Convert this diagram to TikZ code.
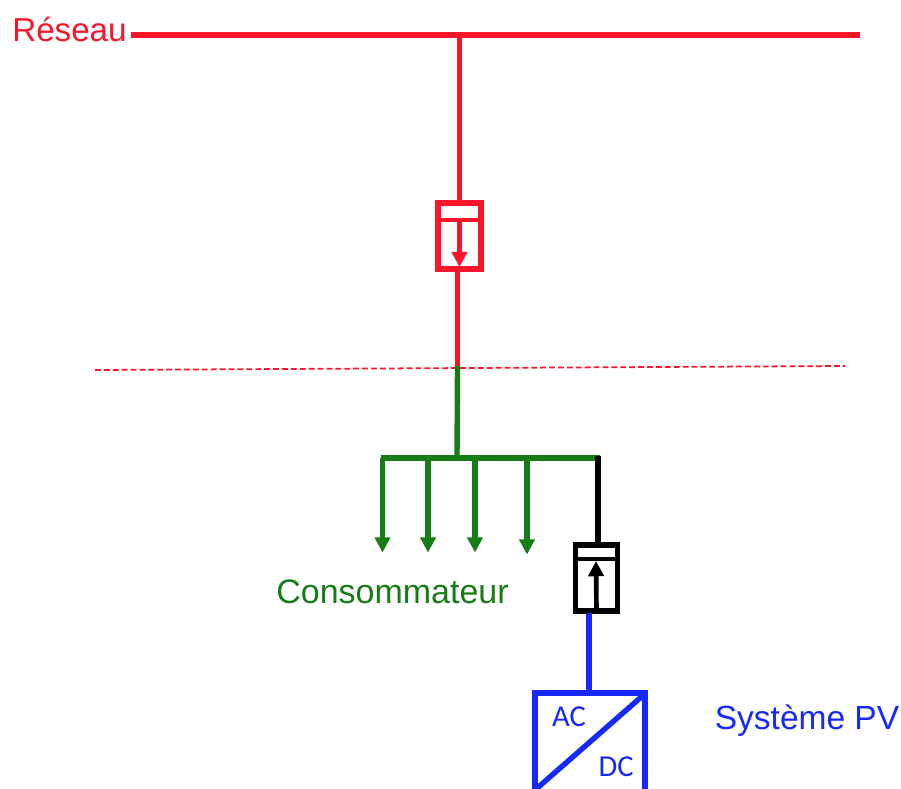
\documentclass[tikz,border=0pt]{standalone}
\usepackage{fontspec}
\setmainfont{Liberation Sans}
\newfontfamily\inverterfont{Carlito}
\usetikzlibrary{arrows.meta}
\definecolor{reseau}{RGB}{250,22,42}
\definecolor{conso}{RGB}{22,125,22}
\definecolor{pv}{RGB}{22,40,250}

\begin{document}
\begin{tikzpicture}[x=0.03cm,y=-0.03cm]
        \clip (0,0) rectangle (901,789);

        \begin{scope}[every node/.style={rectangle,draw,line width=4.4pt,inner sep=0pt}]
            \node [draw=reseau,minimum width=1.29cm,minimum height=1.98cm] (R) at (459.5,236) {};
            \node [draw=black,minimum width=1.26cm,minimum height=1.98cm] (P) at (596.5,578) {};
            \node [draw=pv,minimum width=3.3cm,minimum height=3cm] (I) at (590,743) {};
        \end{scope}

        \begin{scope}[every node/.style={inner sep=0pt,font=\fontsize{29}{30}\selectfont}]
            \node [text=reseau,font=\fontsize{28.3}{30}\selectfont] (T1) at (69.5,29) {Réseau};
            \node [text=conso] (T2) at (392.5,592) {Consommateur};
            \node [text=pv,font=\fontsize{28.6}{30}\selectfont] (T3) at (807,720.5) {Système PV};
        \end{scope}
        \begin{scope}[every node/.style={inner sep=0pt,text=pv,font=\inverterfont\fontsize{26}{28}\selectfont}]
            \node (AC) at (569,717) {AC};
            \node (DC) at (616,767) {DC};
        \end{scope}

        \coordinate (A) at (131,35);
        \coordinate (B) at (860,35);
        \coordinate (C) at (459.5,35);
        \coordinate (D) at (457.5,272);
        \coordinate (E) at (457.5,366);
        \coordinate (F) at (95,370);
        \coordinate (G) at (845,366);
        \coordinate (H) at (457,458);
        \coordinate (J) at (380.5,458);
        \coordinate (K) at (600,458);
        \coordinate (L) at (598,456);
        \coordinate (M) at (598,545);
        \coordinate (N) at (589,613);
        \coordinate (Q) at (589,693);
        \coordinate (R1) at (438,220);
        \coordinate (R2) at (481,220);
        \coordinate (R3) at (459.5,220);
        \coordinate (R4) at (459.5,267);
        \coordinate (P1) at (575,559);
        \coordinate (P2) at (618,559);
        \coordinate (P3) at (596,561);
        \coordinate (I1) at (643.5,695);
        \coordinate (I2) at (535,790);

        \begin{scope}[>={Triangle[length=13pt,width=13pt]},
            every path/.style={line width=4.6pt}]
            \path [draw=reseau] (A) -- (B);
            \path [draw=reseau] (C) -- (R.north);
            \path [draw=reseau] (D) -- (E);
            \path [draw=reseau,line width=1.5pt,dash pattern=on 5pt off 2.6pt] (F) -- (G);
            \path [draw=reseau,line width=3.8pt] (R1) -- (R2);
            \path [draw=reseau,->,line width=4pt] (R3) -- (R4);

            \path [draw=conso] (E) -- (H);
            \path [draw=conso] (J) -- (K);
            \foreach \x/\y in {382.5/552.5,428/552.5,475/552.5,527/554.5}
                \path [draw=conso,->] (\x,458) -- (\x,\y);

            \path [draw=black] (L) -- (M);
            \path [draw=black,line width=3.8pt] (P1) -- (P2);
            \path [draw=black,->,line width=4pt] (P.south) -- (P3);

            \path [draw=pv] (N) -- (Q);
            \path [draw=pv] (I1) -- (I2);
        \end{scope}
    \end{tikzpicture}
\end{document}
